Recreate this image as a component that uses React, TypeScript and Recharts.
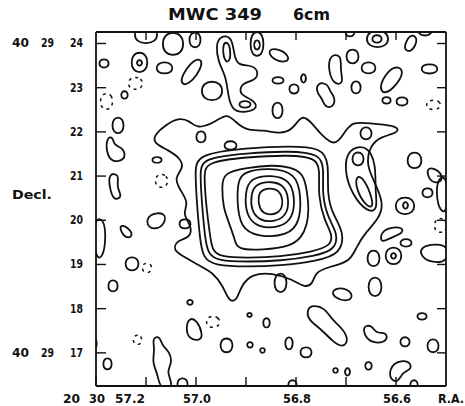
import React from 'react';
import { LineChart, Line, XAxis, YAxis } from 'recharts';

type Pt = [number, number]; // [R.A. seconds, Decl. arcsec]

const RA_TICKS = [57.2, 57.1, 57.0, 56.9, 56.8, 56.7, 56.6];
const RA_LABELLED = [57.2, 57.0, 56.8, 56.6];
const DEC_TICKS = [17, 18, 19, 20, 21, 22, 23, 24];
const RA_DOMAIN: [number, number] = [56.5, 57.2];
const DEC_DOMAIN: [number, number] = [16.25, 24.26];

// nested contours round the peak
const peakRings: Pt[][] = [
  [[56.868, 20.71], [56.84, 20.73], [56.828, 20.57], [56.826, 20.33], [56.836, 20.14], [56.862, 20.12], [56.874, 20.28], [56.876, 20.55]],
  [[56.882, 20.82], [56.848, 20.89], [56.822, 20.78], [56.814, 20.46], [56.818, 20.12], [56.842, 19.96], [56.874, 19.99], [56.89, 20.24], [56.89, 20.57]],
  [[56.892, 20.96], [56.848, 21.03], [56.812, 20.91], [56.802, 20.51], [56.806, 20.05], [56.832, 19.83], [56.876, 19.83], [56.9, 20.1], [56.902, 20.62]],
  [[56.906, 21.1], [56.852, 21.19], [56.8, 21.07], [56.79, 20.56], [56.792, 19.96], [56.816, 19.65], [56.876, 19.62], [56.912, 19.83], [56.918, 20.46], [56.916, 20.87]],
  [[56.946, 21.07], [56.898, 21.19], [56.848, 21.25], [56.812, 21.21], [56.786, 21.07], [56.778, 20.69], [56.774, 20.24], [56.778, 19.9], [56.788, 19.62], [56.812, 19.4], [56.866, 19.33], [56.918, 19.33], [56.922, 19.56], [56.934, 19.94], [56.946, 20.3], [56.948, 20.76]],
];

// the tightly packed square of contours
const plateauRings: Pt[][] = [
  [[56.98, 21.32], [56.898, 21.43], [56.812, 21.48], [56.76, 21.41], [56.752, 21.14], [56.756, 20.57], [56.744, 20.01], [56.726, 19.65], [56.732, 19.42], [56.766, 19.29], [56.832, 19.17], [56.898, 19.15], [56.952, 19.17], [56.968, 19.33], [56.972, 19.67], [56.98, 20.35], [56.984, 21.03]],
  [[56.988, 21.41], [56.898, 21.52], [56.812, 21.57], [56.752, 21.5], [56.744, 21.19], [56.748, 20.57], [56.736, 20.05], [56.716, 19.69], [56.722, 19.33], [56.762, 19.19], [56.832, 19.08], [56.898, 19.06], [56.956, 19.08], [56.976, 19.24], [56.982, 19.6], [56.988, 20.35], [56.992, 21.07]],
  [[56.998, 21.5], [56.898, 21.64], [56.812, 21.68], [56.748, 21.64], [56.734, 21.3], [56.738, 20.57], [56.726, 20.12], [56.704, 19.74], [56.71, 19.24], [56.758, 19.08], [56.832, 18.97], [56.898, 18.95], [56.962, 18.97], [56.986, 19.15], [56.992, 19.56], [56.998, 20.35], [57.002, 21.1]],
];

// lowest contour round the whole source
const envelope: Pt[] = [
  [57.082, 21.95], [57.06, 22.16], [57.036, 22.32], [57.012, 22.25], [56.998, 22.07], [56.964, 22.2], [56.938, 22.43], [56.922, 22.23],
  [56.898, 22.02], [56.866, 22.05], [56.832, 21.95], [56.806, 22.05], [56.788, 22.41], [56.768, 22.2], [56.748, 21.91], [56.722, 21.68],
  [56.706, 21.93], [56.688, 22.25], [56.648, 22.18], [56.596, 22.14], [56.594, 21.98], [56.632, 21.89], [56.652, 21.68], [56.66, 21.25],
  [56.64, 20.8], [56.624, 20.35], [56.636, 20.01], [56.66, 19.74], [56.68, 19.38], [56.692, 19.06], [56.732, 18.95], [56.762, 18.83],
  [56.766, 18.56], [56.782, 18.47], [56.808, 18.67], [56.848, 18.81], [56.888, 18.79], [56.91, 18.52], [56.918, 18.18], [56.934, 18.15],
  [56.946, 18.52], [56.966, 18.81], [56.99, 18.95], [57.02, 19.15], [57.048, 19.33], [57.036, 19.56], [57.012, 19.6], [57.008, 19.87],
  [57.028, 20.14], [57.014, 20.39], [57.032, 20.69], [57.044, 20.96], [57.024, 21.19], [57.032, 21.41], [57.056, 21.59], [57.086, 21.75],
];

// ridge east of the source
const eastRidge: Pt[][] = [
  [[56.696, 21.638], [56.656, 21.705], [56.64, 21.253], [56.642, 20.688], [56.636, 20.235], [56.656, 20.167], [56.688, 20.574], [56.704, 21.14]],
  [[56.68, 21.049], [56.662, 20.914], [56.648, 20.507], [56.646, 20.28], [56.66, 20.325], [56.68, 20.688]],
  [[56.688, 21.547], [56.664, 21.547], [56.664, 21.23], [56.688, 21.23]],
  [[56.672, 22.113], [56.648, 22.113], [56.648, 21.819], [56.672, 21.819]],
];

const northBlobs: Pt[][] = [
  [[57.124, 24.398], [57.076, 24.398], [57.076, 23.991], [57.124, 23.991]],
  [[57.068, 24.262], [57.024, 24.262], [57.024, 23.719], [57.068, 23.719]],
  [[57.014, 24.262], [56.99, 24.262], [56.99, 23.9], [57.014, 23.9]],
  [[56.952, 24.171], [56.928, 24.171], [56.924, 23.742], [56.916, 23.493], [56.888, 23.515], [56.874, 23.357], [56.882, 23.153], [56.91, 23.108], [56.914, 22.837], [56.888, 22.746], [56.874, 22.543], [56.9, 22.43], [56.928, 22.475], [56.936, 22.837], [56.94, 23.267], [56.956, 23.583], [56.96, 23.968]],
  [[56.948, 24.036], [56.932, 24.036], [56.93, 23.583], [56.944, 23.561]],
  [[56.914, 22.701], [56.89, 22.701], [56.89, 22.543], [56.914, 22.543]],
  [[56.892, 24.285], [56.864, 24.285], [56.864, 23.696], [56.892, 23.696]],
  [[56.884, 24.081], [56.872, 24.081], [56.872, 23.855], [56.884, 23.855]],
  [[56.858, 23.877], [56.832, 23.877], [56.814, 23.719], [56.816, 23.561], [56.848, 23.629]],
  [[56.702, 24.398], [56.682, 24.398], [56.682, 24.149], [56.702, 24.149]],
  [[56.66, 24.307], [56.614, 24.307], [56.614, 23.9], [56.66, 23.9]],
  [[56.648, 24.194], [56.628, 24.194], [56.628, 24.013], [56.648, 24.013]],
  [[56.572, 24.239], [56.554, 24.126], [56.568, 23.787], [56.588, 23.855]],
  [[56.556, 24.398], [56.528, 24.398], [56.528, 24.171], [56.556, 24.171]],
  [[57.194, 23.651], [57.174, 23.651], [57.174, 23.448], [57.194, 23.448]],
  [[57.13, 23.81], [57.096, 23.81], [57.096, 23.334], [57.13, 23.334]],
  [[57.118, 23.629], [57.108, 23.629], [57.108, 23.493], [57.118, 23.493]],
  [[57.08, 23.583], [57.046, 23.583], [57.046, 23.312], [57.08, 23.312]],
  [[57.002, 23.719], [56.98, 23.583], [57.016, 22.995], [57.038, 23.131]],
  [[56.99, 23.153], [56.946, 23.153], [56.946, 22.701], [56.99, 22.701]],
  [[56.848, 23.244], [56.824, 23.244], [56.824, 23.086], [56.848, 23.086]],
  [[56.814, 23.086], [56.794, 23.086], [56.794, 22.859], [56.814, 22.859]],
  [[56.79, 23.312], [56.78, 23.312], [56.78, 23.108], [56.79, 23.108]],
  [[56.756, 23.131], [56.736, 23.086], [56.732, 22.905], [56.722, 22.791], [56.724, 22.565], [56.742, 22.543], [56.748, 22.769], [56.76, 22.905]],
  [[56.732, 23.764], [56.708, 23.742], [56.712, 23.402], [56.704, 23.086], [56.724, 23.063], [56.736, 23.402]],
  [[56.7, 23.877], [56.674, 23.877], [56.674, 23.538], [56.7, 23.538]],
  [[56.69, 23.153], [56.67, 23.153], [56.67, 22.859], [56.69, 22.859]],
  [[56.67, 23.583], [56.64, 23.583], [56.64, 23.312], [56.67, 23.312]],
  [[56.608, 23.515], [56.582, 23.425], [56.596, 23.086], [56.624, 22.814], [56.636, 23.04]],
  [[56.55, 23.538], [56.516, 23.538], [56.516, 23.312], [56.55, 23.312]],
  [[56.848, 22.678], [56.826, 22.678], [56.826, 22.294], [56.848, 22.294]],
  [[56.628, 22.791], [56.61, 22.791], [56.61, 22.633], [56.628, 22.633]],
  [[56.6, 22.791], [56.576, 22.791], [56.576, 22.588], [56.6, 22.588]],
  [[57.168, 22.339], [57.144, 22.339], [57.144, 21.954], [57.168, 21.954]],
  [[57.15, 22.927], [57.136, 22.927], [57.136, 22.746], [57.15, 22.746]],
];

const westBlobs: Pt[][] = [
  [[57.178, 21.887], [57.166, 21.887], [57.164, 21.683], [57.144, 21.638], [57.14, 21.366], [57.168, 21.298], [57.18, 21.547]],
  [[57.176, 21.072], [57.152, 21.049], [57.16, 20.755], [57.146, 20.529], [57.164, 20.439], [57.172, 20.688]],
  [[57.202, 20.054], [57.184, 20.031], [57.18, 19.601], [57.186, 19.149], [57.2, 19.126], [57.204, 19.601]],
  [[57.156, 19.918], [57.136, 19.85], [57.124, 19.624], [57.144, 19.579]],
  [[57.142, 19.172], [57.114, 19.172], [57.114, 18.855], [57.142, 18.855]],
  [[57.176, 18.651], [57.156, 18.651], [57.156, 18.38], [57.176, 18.38]],
  [[57.096, 20.145], [57.06, 20.19], [57.062, 19.918], [57.08, 19.782], [57.1, 19.873]],
  [[57.034, 20.031], [57.01, 20.031], [57.01, 19.805], [57.034, 19.805]],
  [[57.088, 21.434], [57.068, 21.434], [57.068, 21.298], [57.088, 21.298]],
  [[57.0, 22.022], [56.98, 22.022], [56.98, 21.751], [57.0, 21.751]],
  [[56.944, 21.796], [56.918, 21.796], [56.918, 21.592], [56.944, 21.592]],
];

const eastBlobs: Pt[][] = [
  [[56.578, 21.547], [56.548, 21.547], [56.548, 21.163], [56.578, 21.163]],
  [[56.542, 21.23], [56.512, 21.14], [56.504, 20.868], [56.532, 20.823]],
  [[56.516, 20.981], [56.496, 21.004], [56.496, 20.167], [56.512, 20.19], [56.52, 20.574]],
  [[56.548, 20.733], [56.526, 20.733], [56.526, 20.507], [56.548, 20.507]],
  [[56.602, 20.529], [56.562, 20.529], [56.562, 20.122], [56.602, 20.122]],
  [[56.586, 20.416], [56.576, 20.416], [56.576, 20.258], [56.586, 20.258]],
  [[56.63, 19.805], [56.588, 19.873], [56.584, 19.714], [56.612, 19.601], [56.632, 19.466]],
  [[56.592, 19.579], [56.568, 19.579], [56.568, 19.398], [56.592, 19.398]],
  [[56.622, 19.398], [56.588, 19.398], [56.588, 18.991], [56.622, 18.991]],
  [[56.61, 19.262], [56.6, 19.262], [56.6, 19.126], [56.61, 19.126]],
  [[56.552, 19.398], [56.52, 19.466], [56.496, 19.42], [56.496, 19.059], [56.528, 19.036], [56.55, 19.172]],
  [[56.658, 19.33], [56.632, 19.33], [56.632, 18.946], [56.658, 18.946]],
];

const southBlobs: Pt[][] = [
  [[56.844, 18.81], [56.818, 18.81], [56.818, 18.357], [56.844, 18.357]],
  [[56.656, 18.719], [56.628, 18.719], [56.628, 18.267], [56.656, 18.267]],
  [[56.73, 18.425], [56.702, 18.493], [56.684, 18.289], [56.696, 18.154], [56.724, 18.244]],
  [[56.768, 18.086], [56.742, 18.018], [56.728, 17.746], [56.708, 17.566], [56.694, 17.294], [56.706, 17.113], [56.726, 17.249], [56.748, 17.52], [56.776, 17.746], [56.778, 17.973]],
  [[56.668, 17.611], [56.648, 17.634], [56.64, 17.43], [56.62, 17.475], [56.616, 17.294], [56.636, 17.203], [56.66, 17.294]],
  [[56.592, 17.362], [56.572, 17.362], [56.572, 17.136], [56.592, 17.136]],
  [[56.538, 17.316], [56.514, 17.316], [56.514, 17.0], [56.538, 17.0]],
  [[56.558, 17.905], [56.538, 17.905], [56.538, 17.746], [56.558, 17.746]],
  [[56.662, 16.796], [56.648, 16.796], [56.648, 16.615], [56.662, 16.615]],
  [[56.608, 16.796], [56.572, 16.841], [56.568, 16.615], [56.588, 16.57], [56.596, 16.298], [56.616, 16.434]],
  [[56.572, 16.389], [56.556, 16.389], [56.556, 16.163], [56.572, 16.163]],
  [[56.822, 17.362], [56.806, 17.362], [56.806, 17.068], [56.822, 17.068]],
  [[56.792, 17.136], [56.768, 17.136], [56.768, 16.886], [56.792, 16.886]],
  [[56.866, 17.792], [56.852, 17.792], [56.852, 17.566], [56.866, 17.566]],
  [[56.898, 17.905], [56.888, 17.905], [56.888, 17.814], [56.898, 17.814]],
  [[56.898, 17.249], [56.886, 17.249], [56.886, 17.113], [56.898, 17.113]],
  [[56.952, 17.339], [56.926, 17.339], [56.926, 17.0], [56.952, 17.0]],
  [[57.014, 17.792], [56.998, 17.746], [56.986, 17.407], [56.992, 17.271], [57.016, 17.317], [57.02, 17.588]],
  [[57.018, 18.199], [57.006, 18.199], [57.006, 18.086], [57.018, 18.086]],
  [[57.186, 16.886], [57.168, 16.886], [57.168, 16.615], [57.186, 16.615]],
  [[57.212, 17.339], [57.198, 17.339], [57.198, 17.068], [57.212, 17.068]],
  [[57.088, 17.339], [57.072, 17.384], [57.068, 17.158], [57.052, 17.022], [57.048, 16.751], [57.06, 16.57], [57.042, 16.208], [57.072, 16.163], [57.076, 16.502], [57.088, 16.796], [57.082, 17.068]],
  [[57.038, 16.434], [57.016, 16.434], [57.016, 16.163], [57.038, 16.163]],
  [[56.816, 16.389], [56.798, 16.389], [56.798, 16.163], [56.816, 16.163]],
  [[56.726, 16.66], [56.716, 16.66], [56.716, 16.547], [56.726, 16.547]],
  [[56.702, 16.66], [56.692, 16.66], [56.692, 16.479], [56.702, 16.479]],
  [[56.872, 17.113], [56.862, 17.113], [56.862, 17.0], [56.872, 17.0]],
];

// dashed (negative) contours
const negativeBlobs: Pt[][] = [
  [[57.136, 23.244], [57.106, 23.244], [57.106, 22.95], [57.136, 22.95]],
  [[57.108, 19.036], [57.088, 19.036], [57.088, 18.81], [57.108, 18.81]],
  [[57.126, 17.407], [57.108, 17.407], [57.108, 17.181], [57.126, 17.181]],
  [[56.98, 17.837], [56.952, 17.837], [56.952, 17.566], [56.98, 17.566]],
  [[57.082, 21.049], [57.056, 21.049], [57.056, 20.733], [57.082, 20.733]],
  [[56.524, 20.054], [56.498, 20.054], [56.498, 19.714], [56.524, 19.714]],
  [[57.192, 22.882], [57.166, 22.882], [57.166, 22.497], [57.192, 22.497]],
  [[56.54, 22.724], [56.51, 22.724], [56.51, 22.497], [56.54, 22.497]],
];

const BLACK = '#111';
const PLOT = { left: 96, top: 32, right: 446, bottom: 386 };
const labelFont = { fontFamily: '"DejaVu Sans", sans-serif', fontWeight: 700 };

const toRows = (c: Pt[]) => c.map(([x, y]) => ({ x, y }));

const BottomTick = (props: any) => {
  const { x, payload } = props;
  const v = payload.value as number;
  const labelled = RA_LABELLED.includes(v);
  return (
    <g>
      <line x1={x} x2={x} y1={PLOT.bottom} y2={PLOT.bottom - 9} stroke={BLACK} strokeWidth={1.4} />
      {labelled && v === 57.2 && (
        <g {...labelFont} fontSize={12} fill={BLACK}>
          <text x={63} y={403} textLength={17} lengthAdjust="spacingAndGlyphs">20</text>
          <text x={89} y={403} textLength={16} lengthAdjust="spacingAndGlyphs">30</text>
          <text x={115} y={403} textLength={30} lengthAdjust="spacingAndGlyphs">57.2</text>
        </g>
      )}
      {labelled && v !== 57.2 && (
        <text x={x + 1} y={403} textAnchor="middle" {...labelFont} fontSize={12} fill={BLACK} textLength={28} lengthAdjust="spacingAndGlyphs">
          {v.toFixed(1)}
        </text>
      )}
    </g>
  );
};

const TopTick = (props: any) => {
  const { x, payload } = props;
  if (payload.value === 57.2) return <g />;
  return <line x1={x} x2={x} y1={PLOT.top} y2={PLOT.top + 8} stroke={BLACK} strokeWidth={1.4} />;
};

const LeftTick = (props: any) => {
  const { y, payload } = props;
  const v = payload.value as number;
  const full = v === 24 || v === 17;
  return (
    <g {...labelFont} fontSize={12} fill={BLACK}>
      <line x1={PLOT.left} x2={PLOT.left + 10} y1={y} y2={y} stroke={BLACK} strokeWidth={1.4} />
      {full && <text x={12} y={y + 4} textLength={17} lengthAdjust="spacingAndGlyphs">40</text>}
      {full && <text x={41} y={y + 4} textLength={13} lengthAdjust="spacingAndGlyphs">29</text>}
      <text x={83} y={y + 4} textAnchor="end" textLength={13} lengthAdjust="spacingAndGlyphs">{v}</text>
    </g>
  );
};

const RightTick = (props: any) => {
  const { y } = props;
  return <line x1={PLOT.right} x2={PLOT.right - 9} y1={y} y2={y} stroke={BLACK} strokeWidth={1.4} />;
};

export default function App() {
  const closed = [...peakRings, ...plateauRings, envelope, ...eastRidge, ...northBlobs, ...westBlobs, ...eastBlobs, ...southBlobs];
  return (
    <div style={{ position: 'absolute', left: 0, top: 0, width: 465, height: 406, background: '#fff' }}>
      <LineChart
        width={465}
        height={406}
        margin={{ top: PLOT.top - 1, left: PLOT.left - 1, right: 465 - PLOT.right - 1, bottom: 406 - PLOT.bottom - 1 }}
      >
        <XAxis
          xAxisId={0}
          type="number"
          dataKey="x"
          domain={RA_DOMAIN}
          reversed
          allowDataOverflow
          ticks={RA_TICKS}
          interval={0}
          height={1}
          tickLine={false}
          axisLine={{ stroke: BLACK, strokeWidth: 1.8 }}
          tick={<BottomTick />}
        />
        <XAxis
          xAxisId="top"
          orientation="top"
          type="number"
          dataKey="x"
          domain={RA_DOMAIN}
          reversed
          allowDataOverflow
          ticks={RA_TICKS}
          interval={0}
          height={1}
          tickLine={false}
          axisLine={{ stroke: BLACK, strokeWidth: 1.8 }}
          tick={<TopTick />}
        />
        <YAxis
          yAxisId={0}
          type="number"
          domain={DEC_DOMAIN}
          allowDataOverflow
          ticks={DEC_TICKS}
          interval={0}
          width={1}
          tickLine={false}
          axisLine={{ stroke: BLACK, strokeWidth: 1.8 }}
          tick={<LeftTick />}
        />
        <YAxis
          yAxisId="right"
          orientation="right"
          type="number"
          domain={DEC_DOMAIN}
          allowDataOverflow
          ticks={DEC_TICKS}
          interval={0}
          width={1}
          tickLine={false}
          axisLine={{ stroke: BLACK, strokeWidth: 1.8 }}
          tick={<RightTick />}
        />
        {closed.map((c, i) => (
          <Line
            key={'c' + i}
            data={toRows(c)}
            dataKey="y"
            type="basisClosed"
            stroke={BLACK}
            strokeWidth={1.8}
            dot={false}
            activeDot={false}
            isAnimationActive={false}
          />
        ))}
        {negativeBlobs.map((c, i) => (
          <Line
            key={'n' + i}
            data={toRows(c)}
            dataKey="y"
            type="basisClosed"
            stroke={BLACK}
            strokeWidth={1.5}
            strokeDasharray="3 4"
            dot={false}
            activeDot={false}
            isAnimationActive={false}
          />
        ))}
      </LineChart>
      <svg width={465} height={406} style={{ position: 'absolute', left: 0, top: 0, pointerEvents: 'none' }}>
        <g {...labelFont} fill={BLACK}>
          <text x={168} y={20} fontSize={15} textLength={94} lengthAdjust="spacingAndGlyphs">MWC 349</text>
          <text x={293} y={20} fontSize={15} textLength={37} lengthAdjust="spacingAndGlyphs">6cm</text>
          <text x={12} y={199} fontSize={13} textLength={40} lengthAdjust="spacingAndGlyphs">Decl.</text>
          <text x={438} y={403} fontSize={12} textLength={26} lengthAdjust="spacingAndGlyphs">R.A.</text>
        </g>
      </svg>
    </div>
  );
}
